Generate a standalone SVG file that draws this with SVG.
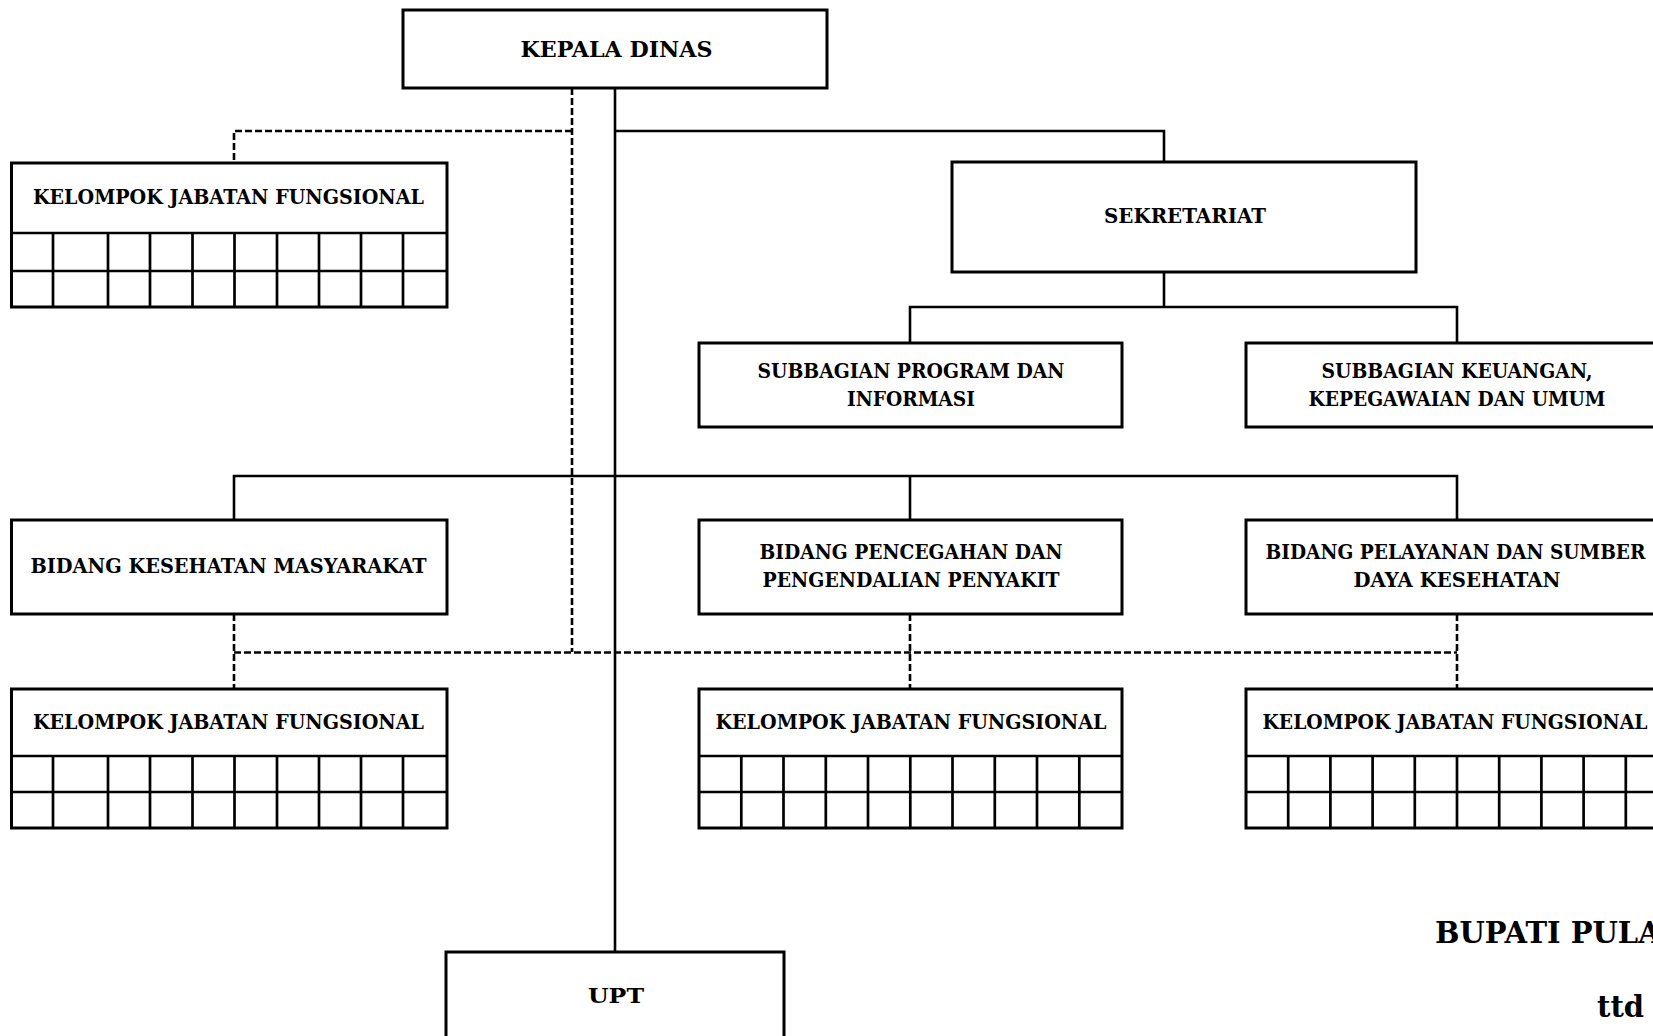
<svg xmlns="http://www.w3.org/2000/svg" width="1653" height="1036" viewBox="0 0 1653 1036">
<style>
  .box { fill: #fff; stroke: #000; stroke-width: 3; }
  .grid { fill: none; stroke: #000; stroke-width: 2.7; }
  .solid { fill: none; stroke: #000; stroke-width: 2.6; }
  .dash { fill: none; stroke: #000; stroke-width: 2.6; stroke-dasharray: 7 3; }
  text { font-family: "DejaVu Serif", "Liberation Serif", serif; font-weight: bold; fill: #000; text-anchor: middle; }
  .t { font-size: 19.5px; }
  .big { font-size: 21.5px; }
  .sig { font-size: 29px; text-anchor: start; }
</style>
<rect x="0" y="0" width="1653" height="1036" fill="#fff"/>

<g id="connectors">
  <path class="solid" d="M615,88 V952"/>
  <path class="solid" d="M615,131 H1164 V162"/>
  <path class="solid" d="M1164,272 V307"/>
  <path class="solid" d="M910,343 V307 H1457 V343"/>
  <path class="solid" d="M234,520 V476 H1457 V520"/>
  <path class="solid" d="M910,476 V520"/>
  <path class="dash" d="M572,88 V652"/>
  <path class="dash" d="M572,131 H234 V163"/>
  <path class="dash" d="M234,652.5 H1457"/>
  <path class="dash" d="M234,614 V689"/>
  <path class="dash" d="M910,614 V689"/>
  <path class="dash" d="M1457,614 V689"/>
</g>

<g id="kepala-dinas">
  <rect class="box" x="403" y="10" width="424" height="78"/>
  <text class="big" x="616.5" y="56.5" textLength="192" lengthAdjust="spacingAndGlyphs">KEPALA DINAS</text>
</g>

<g id="kjf-top">
  <rect class="box" x="11.5" y="163" width="435.5" height="144"/>
  <path class="grid" d="M11.5,233 H447 M11.5,271 H447 M53,233 V307 M108,233 V307 M150,233 V307 M192.5,233 V307 M234.5,233 V307 M277,233 V307 M319,233 V307 M361,233 V307 M403,233 V307"/>
  <text class="t" x="228.5" y="204" textLength="391" lengthAdjust="spacingAndGlyphs">KELOMPOK JABATAN FUNGSIONAL</text>
</g>

<g id="sekretariat">
  <rect class="box" x="952" y="162" width="464" height="110"/>
  <text class="t" x="1185" y="223" textLength="162" lengthAdjust="spacingAndGlyphs">SEKRETARIAT</text>
</g>

<g id="subbagian-program">
  <rect class="box" x="699" y="343" width="423" height="84"/>
  <text class="t" x="911" y="377.5" textLength="307" lengthAdjust="spacingAndGlyphs">SUBBAGIAN PROGRAM DAN</text>
  <text class="t" x="911" y="405.5" textLength="128" lengthAdjust="spacingAndGlyphs">INFORMASI</text>
</g>

<g id="subbagian-keuangan">
  <rect class="box" x="1246" y="343" width="423" height="84"/>
  <text class="t" x="1457" y="377.5" textLength="271" lengthAdjust="spacingAndGlyphs">SUBBAGIAN KEUANGAN,</text>
  <text class="t" x="1457" y="405.5" textLength="297" lengthAdjust="spacingAndGlyphs">KEPEGAWAIAN DAN UMUM</text>
</g>

<g id="bidang-kesmas">
  <rect class="box" x="11.5" y="520" width="435.5" height="94"/>
  <text class="t" x="228.5" y="573" textLength="396" lengthAdjust="spacingAndGlyphs">BIDANG KESEHATAN MASYARAKAT</text>
</g>

<g id="bidang-p2p">
  <rect class="box" x="699" y="520" width="423" height="94"/>
  <text class="t" x="911" y="559" textLength="303" lengthAdjust="spacingAndGlyphs">BIDANG PENCEGAHAN DAN</text>
  <text class="t" x="911" y="587" textLength="297" lengthAdjust="spacingAndGlyphs">PENGENDALIAN PENYAKIT</text>
</g>

<g id="bidang-pelayanan">
  <rect class="box" x="1246" y="520" width="423" height="94"/>
  <text class="t" x="1455.5" y="559" textLength="380" lengthAdjust="spacingAndGlyphs">BIDANG PELAYANAN DAN SUMBER</text>
  <text class="t" x="1457" y="587" textLength="207" lengthAdjust="spacingAndGlyphs">DAYA KESEHATAN</text>
</g>

<g id="kjf-left">
  <rect class="box" x="11.5" y="689" width="435.5" height="139"/>
  <path class="grid" d="M11.5,756 H447 M11.5,792 H447 M53,756 V828 M108,756 V828 M150,756 V828 M192.5,756 V828 M234.5,756 V828 M277,756 V828 M319,756 V828 M361,756 V828 M403,756 V828"/>
  <text class="t" x="228.5" y="729" textLength="391" lengthAdjust="spacingAndGlyphs">KELOMPOK JABATAN FUNGSIONAL</text>
</g>

<g id="kjf-middle">
  <rect class="box" x="699" y="689" width="423" height="139"/>
  <path class="grid" d="M699,756 H1122 M699,792 H1122 M741.3,756 V828 M783.5,756 V828 M825.8,756 V828 M868,756 V828 M910.3,756 V828 M952.5,756 V828 M994.8,756 V828 M1037,756 V828 M1079.3,756 V828"/>
  <text class="t" x="911" y="729" textLength="391" lengthAdjust="spacingAndGlyphs">KELOMPOK JABATAN FUNGSIONAL</text>
</g>

<g id="kjf-right">
  <rect class="box" x="1246" y="689" width="423" height="139"/>
  <path class="grid" d="M1246,756 H1669 M1246,792 H1669 M1288.2,756 V828 M1330.4,756 V828 M1372.6,756 V828 M1414.8,756 V828 M1457,756 V828 M1499.2,756 V828 M1541.4,756 V828 M1583.6,756 V828 M1625.8,756 V828"/>
  <text class="t" x="1455" y="729" textLength="385" lengthAdjust="spacingAndGlyphs">KELOMPOK JABATAN FUNGSIONAL</text>
</g>

<g id="upt">
  <rect class="box" x="446" y="952" width="338" height="120"/>
  <text class="t" x="616" y="1003" textLength="56" lengthAdjust="spacingAndGlyphs">UPT</text>
</g>

<g id="signature">
  <text class="sig" x="1435" y="943">BUPATI PULA</text>
  <text class="sig" x="1597" y="1017">ttd</text>
</g>
</svg>
